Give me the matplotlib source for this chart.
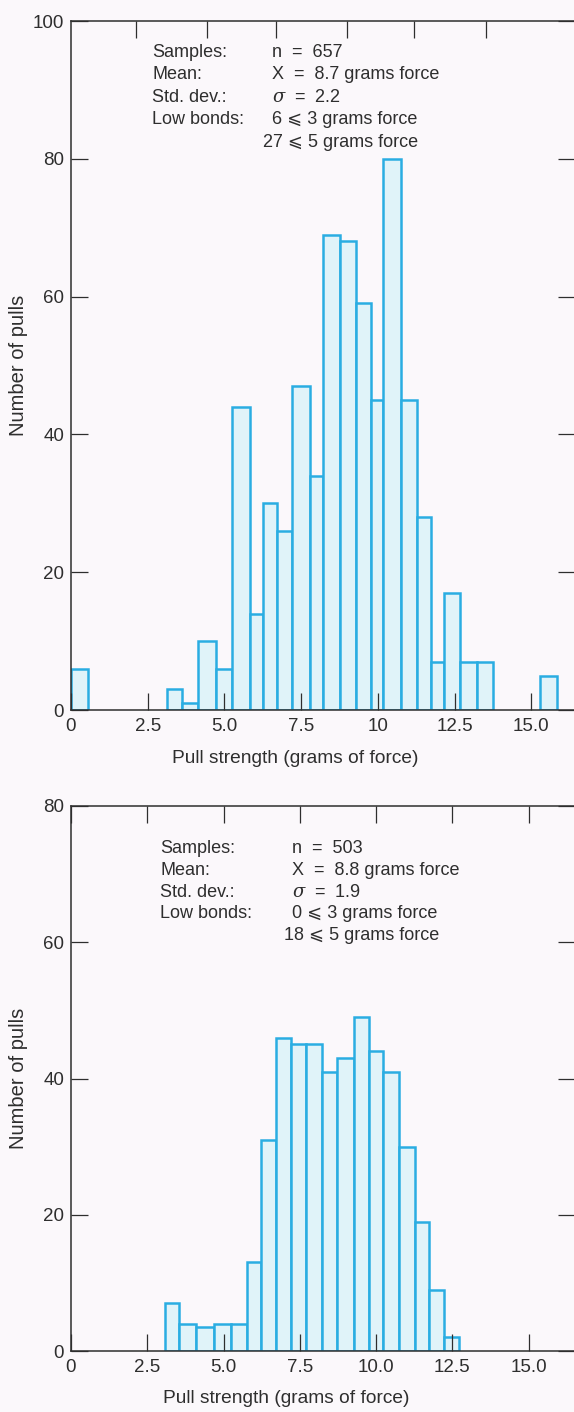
import matplotlib
matplotlib.use('Agg')
import matplotlib.pyplot as plt
import numpy as np

plt.rcParams['font.family'] = ['Liberation Sans', 'DejaVu Sans']
plt.rcParams['mathtext.fontset'] = 'dejavuserif'

# upper panel: 657 pulls, bars (edges in grams of force)
top_left = [0.00, 3.12, 3.63, 4.13, 4.73, 5.25, 5.82, 6.24, 6.72, 7.20, 7.78, 8.20,
            8.77, 9.29, 9.78, 10.16, 10.74, 11.27, 11.72, 12.16, 12.68, 13.24, 15.27]
top_right = [0.56, 3.63, 4.13, 4.73, 5.25, 5.82, 6.24, 6.72, 7.20, 7.78, 8.20, 8.77,
             9.29, 9.78, 10.16, 10.74, 11.27, 11.72, 12.16, 12.68, 13.24, 13.75, 15.84]
top_counts = [6, 3, 1, 10, 6, 44, 14, 30, 26, 47, 34, 69, 68, 59, 45, 80, 45, 28, 7, 17, 7, 7, 5]

# lower panel: 503 pulls
bot_edges = [3.09, 3.54, 4.10, 4.70, 5.26, 5.76, 6.23, 6.72, 7.20, 7.69, 8.23, 8.72,
             9.26, 9.76, 10.24, 10.75, 11.27, 11.75, 12.24, 12.73]
bot_counts = [7, 4, 3.5, 4, 4, 13, 31, 46, 45, 45, 41, 43, 49, 44, 41, 30, 19, 9, 2]

x_ticks = [0, 2.5, 5.0, 7.5, 10, 12.5, 15.0]
top_xlabels = ['0', '2.5', '5.0', '7.5', '10', '12.5', '15.0']
bot_xlabels = ['0', '2.5', '5.0', '7.5', '10.0', '12.5', '15.0']
top_yticks = [0, 20, 40, 60, 80, 100]
bot_yticks = [0, 20, 40, 60, 80]
top_frame_ticks = [2.12, 4.42, 6.68, 8.98, 11.18, 13.51]

top_stats = [('Samples:', r'n  =  657'),
             ('Mean:', r'X  =  8.7 grams force'),
             ('Std. dev.:', r'$\sigma$  =  2.2'),
             ('Low bonds:', '6 ⩽ 3 grams force')]
top_extra = '27 ⩽ 5 grams force'
bot_stats = [('Samples:', r'n  =  503'),
             ('Mean:', r'X  =  8.8 grams force'),
             ('Std. dev.:', r'$\sigma$  =  1.9'),
             ('Low bonds:', '0 ⩽ 3 grams force')]
bot_extra = '18 ⩽ 5 grams force'

BG = '#fbf8fb'
EDGE = '#2aade2'
FILL = '#e0f3f9'
INK = '#2e2e2e'
FS = 13

W, H = 574, 1412
fig = plt.figure(figsize=(W / 100, H / 100), dpi=100, facecolor=BG)


def px_axes(left, top, right, bottom):
    return fig.add_axes([left / W, 1 - bottom / H, (right - left) / W, (bottom - top) / H])


def style(ax, xmax, ymax, yticks, xlabels, top_ticks):
    ax.set_facecolor(BG)
    ax.set_xlim(0, xmax)
    ax.set_ylim(0, ymax)
    ax.set_xticks(x_ticks, xlabels)
    ax.set_yticks(yticks)
    for s in ax.spines.values():
        s.set_linewidth(1.1)
        s.set_color(INK)
    ax.tick_params(direction='in', length=12.5, width=0.9, color=INK, labelcolor=INK,
                   labelsize=13.5, right=True, top=top_ticks, pad=5)
    ax.tick_params(axis='x', pad=6)
    ax.set_xlabel('Pull strength (grams of force)', fontsize=13.8, color=INK)
    ax.set_ylabel('Number of pulls', fontsize=14.5, color=INK)
    ax.yaxis.set_label_coords(-0.085, 0.5)


def stats_block(ax, rows, extra, x1, x2, x3, y0, dy):
    for i, (a, b) in enumerate(rows):
        ax.text(x1, y0 - i * dy, a, transform=ax.transAxes, fontsize=FS, color=INK, va='center')
        ax.text(x2, y0 - i * dy, b, transform=ax.transAxes, fontsize=FS, color=INK, va='center')
    ax.text(x3, y0 - len(rows) * dy, extra, transform=ax.transAxes, fontsize=FS, color=INK,
            va='center')


# upper histogram
ax1 = px_axes(71, 21, 575, 710)
widths = np.array(top_right) - np.array(top_left)
ax1.bar(top_left, top_counts, width=widths, align='edge', color=FILL, edgecolor=EDGE, linewidth=1.8)
style(ax1, 16.42, 100, top_yticks, top_xlabels, False)
sec = ax1.secondary_xaxis('top')
sec.set_xticks(top_frame_ticks, [''] * len(top_frame_ticks))
sec.tick_params(direction='in', length=12.5, width=0.9, color=INK)
sec.spines['top'].set_visible(False)
ax1.xaxis.set_label_coords(0.444, -0.058)
stats_block(ax1, top_stats, top_extra, 0.161, 0.399, 0.381, 0.955, 0.0328)

# lower histogram
ax2 = px_axes(71, 806, 575, 1351)
ax2.bar(bot_edges[:-1], bot_counts, width=np.diff(bot_edges), align='edge', color=FILL,
        edgecolor=EDGE, linewidth=1.8)
style(ax2, 16.52, 80, bot_yticks, bot_xlabels, True)
ax2.xaxis.set_label_coords(0.428, -0.072)
stats_block(ax2, bot_stats, bot_extra, 0.177, 0.438, 0.4226, 0.922, 0.040)

fig.savefig('out.png', dpi=100, facecolor=BG)
